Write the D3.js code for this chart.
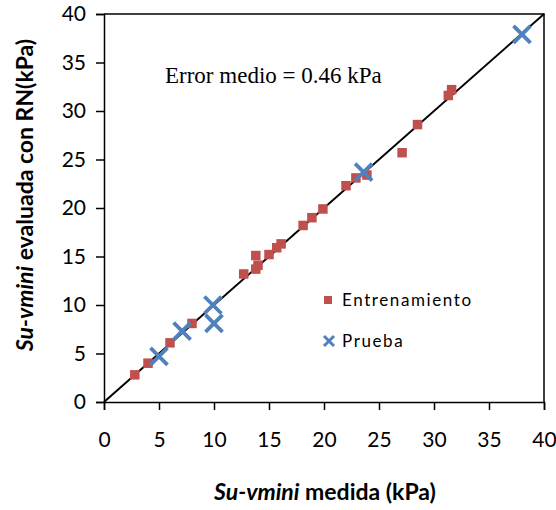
<!DOCTYPE html>
<html>
<head>
<meta charset="utf-8">
<script src="https://cdn.jsdelivr.net/npm/d3@7"></script>
<style>
  html, body { margin: 0; padding: 0; background: #fff; }
  svg { display: block; }
</style>
</head>
<body>
<svg id="chart" width="556" height="510"></svg>
<script>
// Training set: measured vs. network-evaluated Su-vmini (kPa)
const trainMeasured = [2.8, 4.0, 6.0, 8.0, 12.7, 13.8, 14.0, 13.8, 15.0, 15.7, 16.1, 18.1, 18.9, 19.9, 22.0, 22.9, 23.9, 27.1, 28.5, 31.3, 31.6];
const trainEvaluated = [2.8, 4.0, 6.1, 8.1, 13.2, 13.7, 14.1, 15.1, 15.2, 15.9, 16.3, 18.2, 19.0, 19.9, 22.3, 23.1, 23.4, 25.7, 28.6, 31.6, 32.2];

// Test set
const testMeasured = [5.0, 7.1, 10.0, 9.9, 23.6, 38.0];
const testEvaluated = [4.7, 7.3, 8.1, 10.0, 23.7, 37.9];

const xTicks = [0, 5, 10, 15, 20, 25, 30, 35, 40];
const yTicks = [0, 5, 10, 15, 20, 25, 30, 35, 40];
const seriesNames = ["Entrenamiento", "Prueba"];
const annotation = "Error medio = 0.46 kPa";

const red = "#C0504D";
const blue = "#4F81BD";

const svg = d3.select("#chart");
const plotLeft = 104, plotRight = 544, plotTop = 14, plotBottom = 402;

const x = d3.scaleLinear().domain([0, 40]).range([plotLeft, plotRight]);
const y = d3.scaleLinear().domain([0, 40]).range([plotBottom, plotTop]);

// plot frame (top and right edges)
svg.append("path")
  .attr("d", `M${plotLeft},${plotTop}H${plotRight}V${plotBottom}`)
  .attr("fill", "none").attr("stroke", "#000").attr("stroke-width", 1.5);

const tickFont = "Lato, 'Open Sans', sans-serif";

const xAxis = svg.append("g")
  .attr("transform", `translate(0,${plotBottom})`)
  .call(d3.axisBottom(x).tickValues(xTicks).tickSize(8).tickPadding(22).tickFormat(d3.format("d")));
const yAxis = svg.append("g")
  .attr("transform", `translate(${plotLeft},0)`)
  .call(d3.axisLeft(y).tickValues(yTicks).tickSize(8).tickPadding(10).tickFormat(d3.format("d")));

[xAxis, yAxis].forEach(g => {
  g.select(".domain").attr("stroke", "#000").attr("stroke-width", 1.5);
  g.selectAll(".tick line").attr("stroke", "#000").attr("stroke-width", 1.5);
  g.selectAll(".tick text").attr("fill", "#000")
    .style("font-family", tickFont).style("font-size", "21px");
});

// 1:1 line
svg.append("line")
  .attr("x1", x(0)).attr("y1", y(0)).attr("x2", x(40)).attr("y2", y(40))
  .attr("stroke", "#000").attr("stroke-width", 2);

// training points
const sq = 9.5;
svg.append("g").selectAll("rect")
  .data(d3.range(trainMeasured.length))
  .join("rect")
  .attr("x", i => x(trainMeasured[i]) - sq / 2)
  .attr("y", i => y(trainEvaluated[i]) - sq / 2)
  .attr("width", sq).attr("height", sq)
  .attr("fill", red);

// test points
const xs = 8.5;
const crossPath = (cx, cy, s) => `M${cx - s},${cy - s}L${cx + s},${cy + s}M${cx - s},${cy + s}L${cx + s},${cy - s}`;
svg.append("g").selectAll("path")
  .data(d3.range(testMeasured.length))
  .join("path")
  .attr("d", i => crossPath(x(testMeasured[i]), y(testEvaluated[i]), xs))
  .attr("stroke", blue).attr("stroke-width", 3.8).attr("fill", "none");

// annotation
svg.append("text")
  .attr("x", 165).attr("y", 83)
  .style("font-family", "'Liberation Serif', 'Times New Roman', serif")
  .style("font-size", "23px")
  .attr("fill", "#000")
  .text(annotation);

// legend
const legend = svg.append("g");
legend.append("rect").attr("x", 324).attr("y", 296).attr("width", 8).attr("height", 8).attr("fill", red);
legend.append("path").attr("d", crossPath(329, 341, 5)).attr("stroke", blue).attr("stroke-width", 3).attr("fill", "none");
legend.selectAll("text.lg")
  .data(seriesNames)
  .join("text")
  .attr("class", "lg")
  .attr("x", 342)
  .attr("y", (d, i) => 306 + i * 41)
  .style("font-family", tickFont)
  .style("font-size", "17px")
  .style("letter-spacing", "1.6px")
  .attr("fill", "#000")
  .text(d => d);

// axis titles
const xTitle = svg.append("text")
  .attr("x", 325).attr("y", 500)
  .attr("text-anchor", "middle")
  .style("font-family", tickFont).style("font-size", "23px").style("font-weight", "bold")
  .attr("fill", "#000");
xTitle.append("tspan").style("font-style", "italic").text("Su-vmini");
xTitle.append("tspan").text(" medida (kPa)");

const yTitle = svg.append("text")
  .attr("transform", `translate(33,195) rotate(-90)`)
  .attr("text-anchor", "middle")
  .style("font-family", tickFont).style("font-size", "23px").style("font-weight", "bold")
  .attr("fill", "#000");
yTitle.append("tspan").style("font-style", "italic").text("Su-vmini");
yTitle.append("tspan").text(" evaluada con RN(kPa)");
</script>
</body>
</html>
